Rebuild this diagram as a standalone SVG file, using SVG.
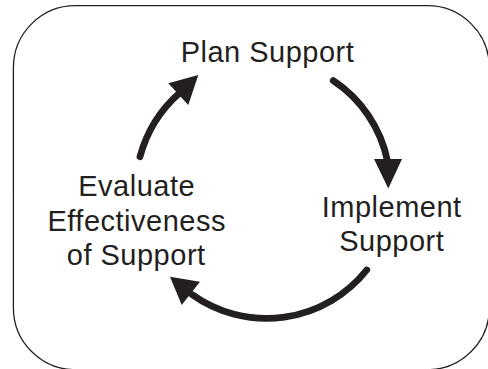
<svg xmlns="http://www.w3.org/2000/svg" width="488" height="369" viewBox="0 0 488 369">
  <style>
    .frame { fill: #ffffff; stroke: #231f20; stroke-width: 1.3; }
    .label { font-family: "Liberation Sans", Arial, Helvetica, sans-serif; font-size: 29px; fill: #231f20; text-anchor: middle; letter-spacing: 0.5px; }
    .arc { fill: none; stroke: #231f20; stroke-width: 6.8; stroke-linecap: round; }
    .head { fill: #231f20; stroke: none; }
  </style>
  <rect width="488" height="369" fill="#ffffff"/>
  <rect class="frame" x="13.4" y="5.7" width="476" height="364" rx="62" ry="62"/>

  <g id="node-plan">
    <text class="label" x="267.5" y="62.3">Plan Support</text>
  </g>
  <g id="node-implement">
    <text class="label" x="391.7" y="216.7">Implement</text>
    <text class="label" x="391.7" y="250.7">Support</text>
  </g>
  <g id="node-evaluate">
    <text class="label" x="136.7" y="195.5">Evaluate</text>
    <text class="label" x="136.7" y="230.5">Effectiveness</text>
    <text class="label" x="136.2" y="265">of Support</text>
  </g>

  <g id="connectors">
    <path class="arc" d="M333.3,80.7 A127,127 0 0 1 387.5,161"/>
    <polygon class="head" points="374,159 402,159 388.3,188.5"/>
    <path class="arc" d="M366.7,270 A128,128 0 0 1 192,294.5"/>
    <polygon class="head" points="181.7,305 200,281.7 170,276.7"/>
    <path class="arc" d="M140,156.7 A130,130 0 0 1 179.5,93"/>
    <polygon class="head" points="168.3,83.3 188.3,105 198.3,75"/>
  </g>
</svg>
